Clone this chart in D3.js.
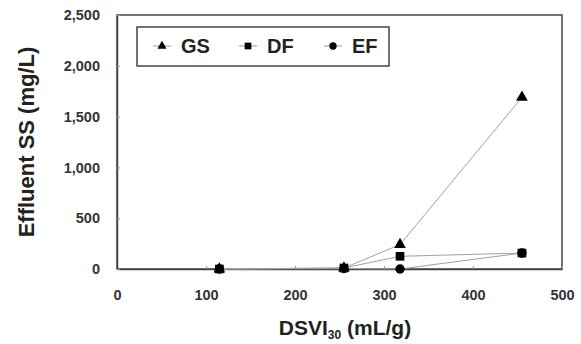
<!DOCTYPE html>
<html><head><meta charset="utf-8">
<script src="https://cdn.jsdelivr.net/npm/d3@7"></script>
<style>body{margin:0;background:#fff}</style>
</head><body>
<svg id="c" width="581" height="344"></svg>
<script>
const seriesNames = ["GS", "DF", "EF"];
const xValues = [115, 255, 318, 455];
const gsValues = [0, 10, 240, 1690];
const dfValues = [0, 10, 125, 157];
const efValues = [0, 5, 0, 157];
const xTicks = [0, 100, 200, 300, 400, 500];
const yTicks = [0, 500, 1000, 1500, 2000, 2500];

const svg = d3.select("#c");
const L = 117, R = 562, T = 15, B = 269;
const x = d3.scaleLinear().domain([0, 500]).range([L, R]);
const y = d3.scaleLinear().domain([0, 2500]).range([B, T]);
const font = "Arial, 'Liberation Sans', sans-serif";

svg.append("rect").attr("x", L).attr("y", T).attr("width", R - L).attr("height", B - T)
  .attr("fill", "none").attr("stroke", "#444").attr("stroke-width", 1.5);

const xa = svg.append("g").attr("transform", `translate(0,${B})`)
  .call(d3.axisBottom(x).tickValues(xTicks).tickSizeInner(-3).tickSizeOuter(0).tickPadding(21));
const ya = svg.append("g").attr("transform", `translate(${L},0)`)
  .call(d3.axisLeft(y).tickValues(yTicks).tickSizeInner(-3).tickSizeOuter(0).tickPadding(17).tickFormat(d3.format(",")));
[xa, ya].forEach(a => {
  a.select(".domain").attr("stroke", "#444").attr("stroke-width", 1.5);
  a.selectAll(".tick line").attr("stroke", "#999");
  a.selectAll("text").attr("font-family", font).attr("font-weight", "bold")
    .attr("font-size", 14.5).attr("fill", "#333");
});

const data = [gsValues, dfValues, efValues];
const line = d3.line().x((d, i) => x(xValues[i])).y(d => y(d));
data.forEach(vals => {
  svg.append("path").attr("d", line(vals)).attr("fill", "none")
    .attr("stroke", "#a0a0a0").attr("stroke-width", 1);
});
const symbols = [d3.symbolTriangle, d3.symbolSquare, d3.symbolCircle];
const sizes = [60, 75, 70];
data.forEach((vals, s) => {
  svg.append("g").selectAll("path").data(vals).join("path")
    .attr("transform", (d, i) => `translate(${x(xValues[i])},${y(d)})`)
    .attr("d", d3.symbol().type(symbols[s]).size(sizes[s])).attr("fill", "#000");
});

// legend
svg.append("rect").attr("x", 137).attr("y", 27).attr("width", 252).attr("height", 39)
  .attr("fill", "#fff").attr("stroke", "#444").attr("stroke-width", 1.5);
const lx = [162, 248, 333];
seriesNames.forEach((n, s) => {
  svg.append("line").attr("x1", lx[s] - 9).attr("x2", lx[s] + 9).attr("y1", 46).attr("y2", 46)
    .attr("stroke", "#999").attr("stroke-width", 1);
  svg.append("path").attr("transform", `translate(${lx[s]},46)`)
    .attr("d", d3.symbol().type(symbols[s]).size(sizes[s] * 0.6)).attr("fill", "#000");
  svg.append("text").attr("x", lx[s] + 19).attr("y", 53).text(n)
    .attr("font-family", font).attr("font-weight", "bold").attr("font-size", 20).attr("fill", "#222");
});

// titles
const xt = svg.append("text").attr("x", 345).attr("y", 335).attr("text-anchor", "middle")
  .attr("font-family", font).attr("font-weight", "bold").attr("font-size", 21).attr("fill", "#222");
xt.append("tspan").text("DSVI");
xt.append("tspan").text("30").attr("font-size", 12).attr("dy", 4);
xt.append("tspan").text(" (mL/g)").attr("dy", -4);
svg.append("text").attr("transform", "translate(34,142) rotate(-90)").attr("text-anchor", "middle")
  .attr("font-family", font).attr("font-weight", "bold").attr("font-size", 22).attr("fill", "#222")
  .text("Effluent SS (mg/L)");
</script>
</body></html>
